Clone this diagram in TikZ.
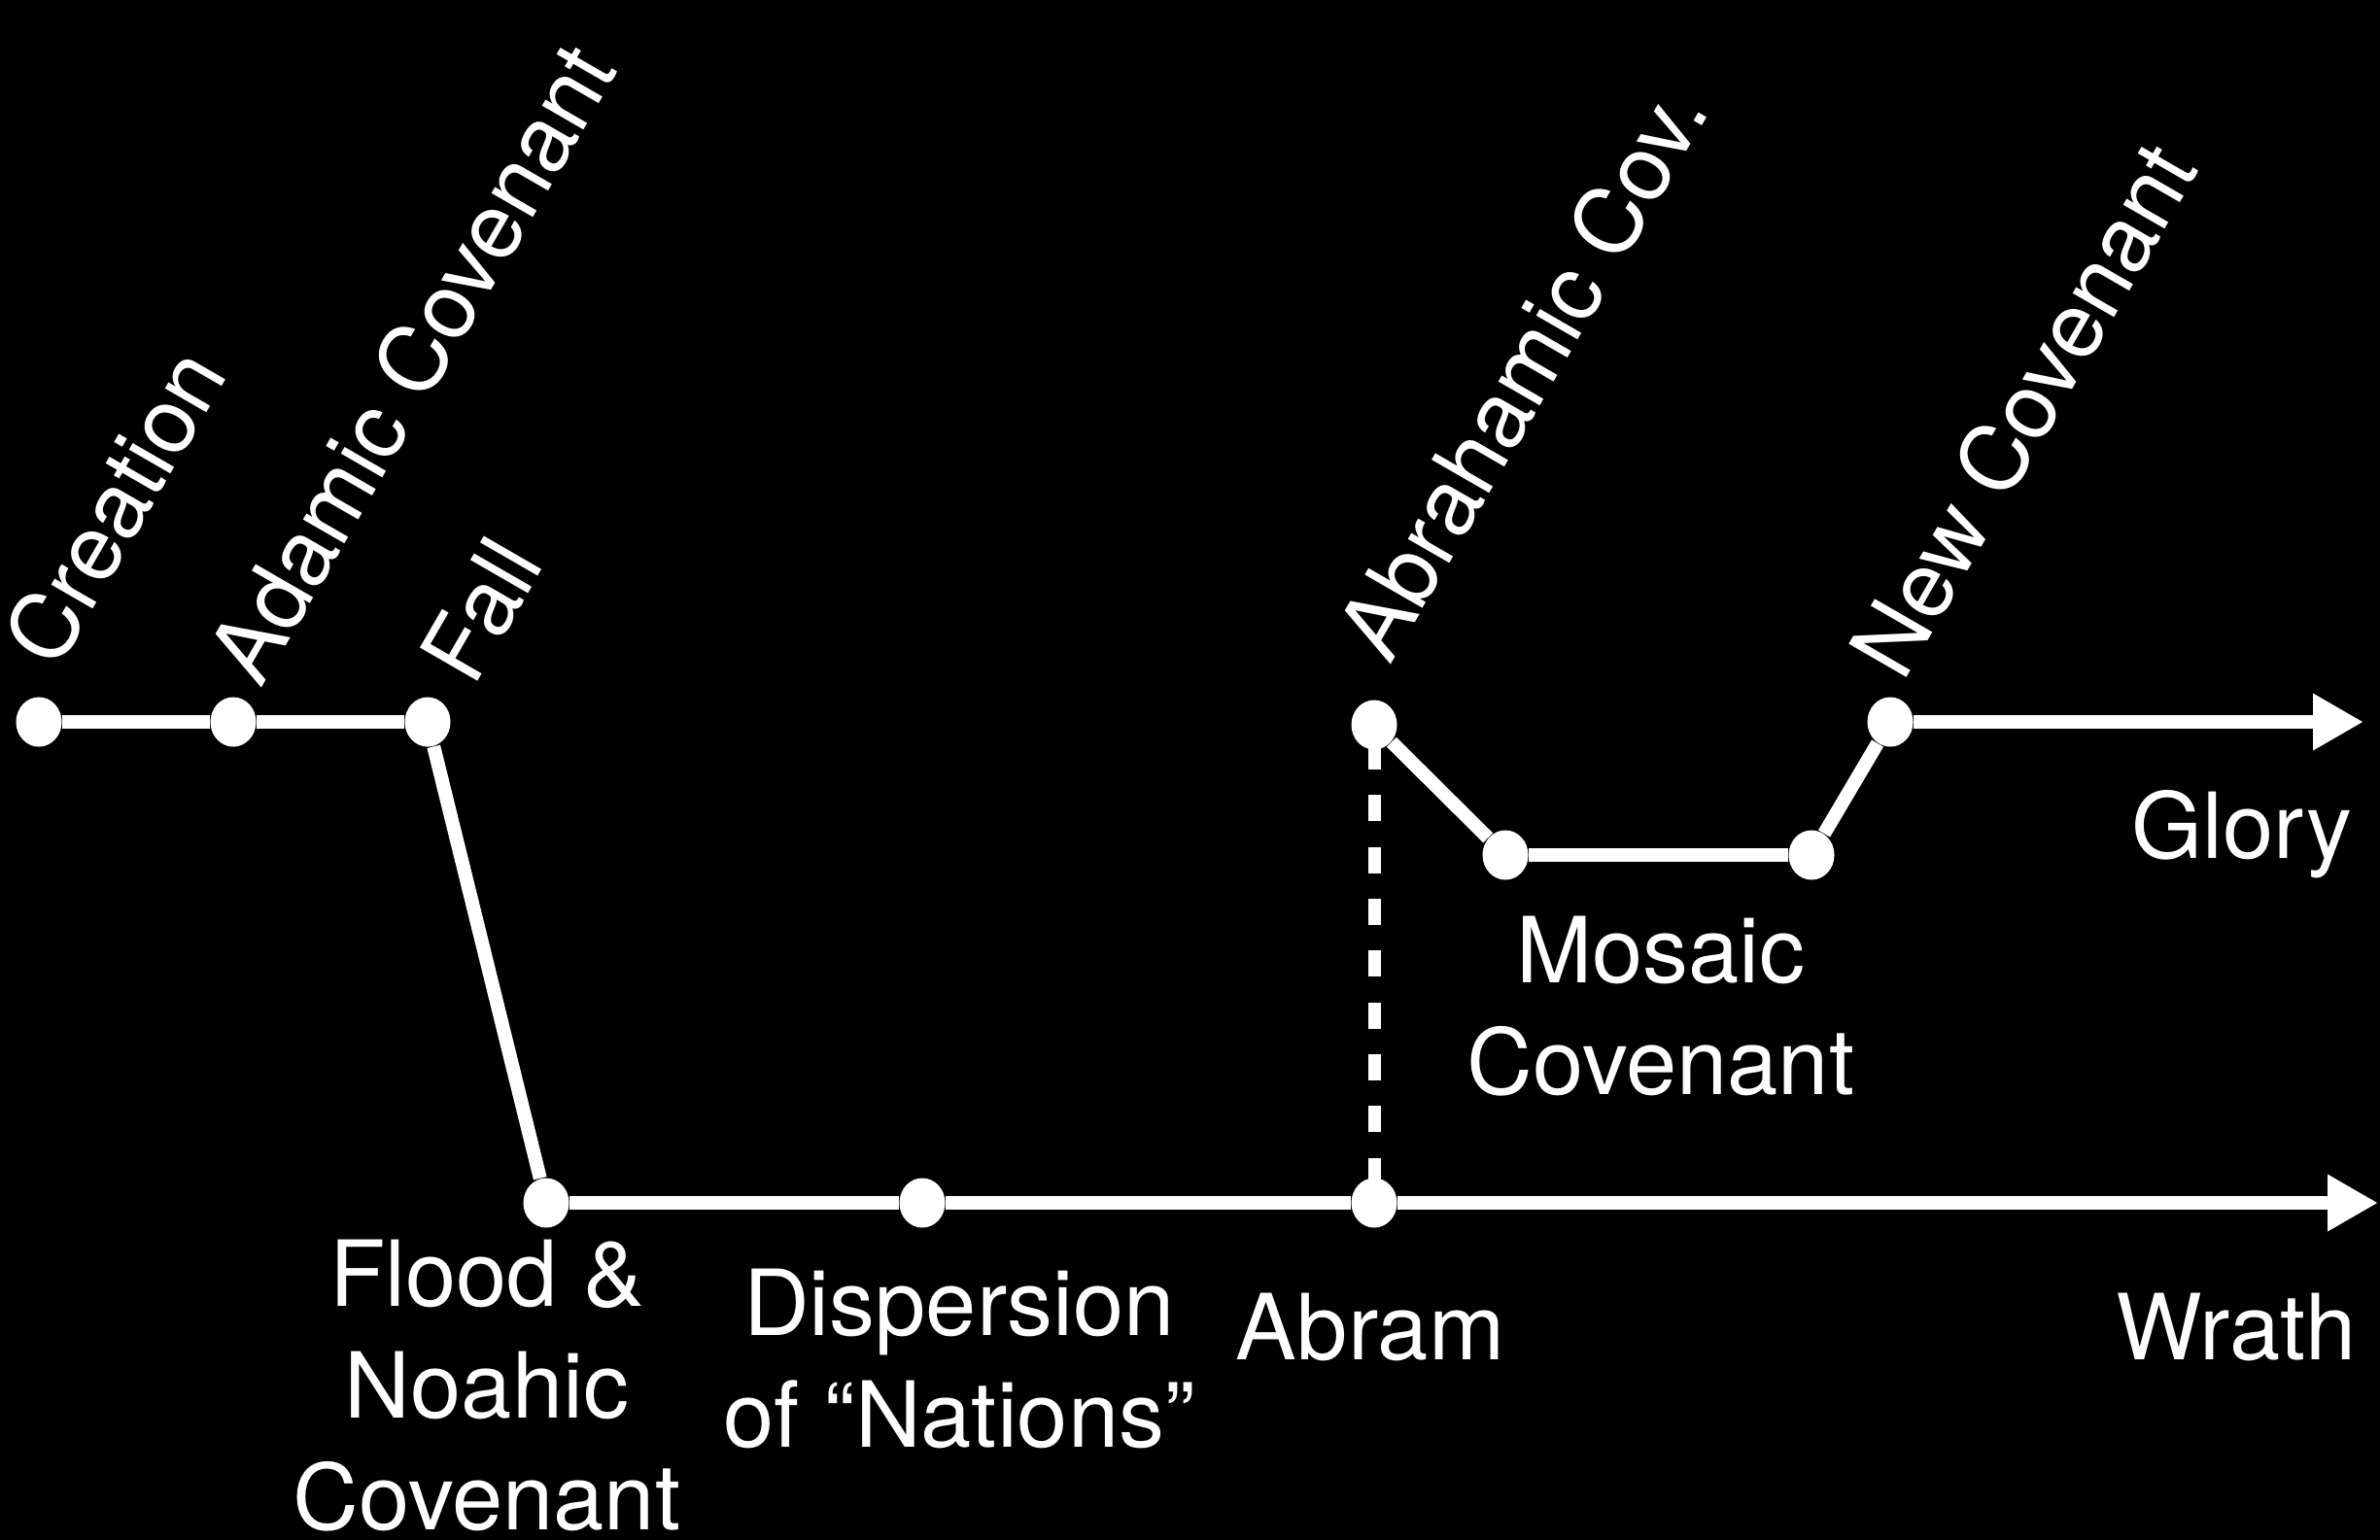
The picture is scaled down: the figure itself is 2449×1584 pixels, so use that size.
\documentclass[tikz,border=0pt]{standalone}
\usepackage{fontspec}
\setmainfont{TeX Gyre Heros}
\usetikzlibrary{arrows.meta,shapes.geometric}
\begin{document}
\begin{tikzpicture}[x=0.01cm,y=-0.01cm,
  dot/.style={ellipse,fill=white,draw=none,minimum width=0.47cm,minimum height=0.51cm,inner sep=0pt},
  conn/.style={draw=white,line width=0.14cm},
  dashconn/.style={draw=white,line width=0.13cm,dash pattern=on 0.27cm off 0.263cm,dash phase=0.343cm},
  arr/.style={conn,-{Triangle[length=0.52cm,width=0.55cm]}},
  lbl/.style={text=white,font=\fontsize{26.7}{32.7}\selectfont,inner sep=0pt},
  rlbl/.style={lbl,rotate=60,anchor=base west},
  hlbl/.style={lbl,align=center,anchor=base}]
\useasboundingbox (0,0) rectangle (2449,1584);
\fill[black] (-20,-20) rectangle (2469,1604);
% dots
\node[dot] (c)  at (40,743) {};
\node[dot] (a)  at (240,743) {};
\node[dot] (f)  at (440,743) {};
\node[dot] (fl) at (562,1238) {};
\node[dot] (d)  at (949,1238) {};
\node[dot] (ab) at (1414,1238) {};
\node[dot] (ac) at (1414,746) {};
\node[dot] (m1) at (1549,880) {};
\node[dot] (m2) at (1864,880) {};
\node[dot] (nc) at (1945,743) {};
\coordinate (gend) at (2432,743);
\coordinate (wend) at (2447,1238);
% connectors
\draw[conn] (c) -- (a);
\draw[conn] (a) -- (f);
\draw[conn] (f) -- (fl);
\draw[conn] (fl) -- (d);
\draw[conn] (d) -- (ab);
\draw[arr] (ab) -- (wend);
\draw[dashconn] (ac.center) -- (ab.center);
\draw[conn] (ac) -- (m1);
\draw[conn] (m1) -- (m2);
\draw[conn] (m2) -- (nc);
\draw[arr] (nc) -- (gend);
% rotated labels
\node[rlbl] (lc)  at (58,692) {Creation};
\node[rlbl] (la)  at (268,710) {Adamic Covenant};
\node[rlbl] (lf)  at (487,709) {Fall};
\node[rlbl] (lac) at (1430,686) {Abrahamic Cov.};
\node[rlbl] (lnc) at (1958,704) {New Covenant};
% horizontal labels (base = baseline of last line)
\node[lbl,anchor=base east] (lg) at (2421,883) {Glory};
\node[lbl,anchor=base east] (lw) at (2425,1399) {Wrath};
\node[hlbl] (lm)  at (1709,1126) {Mosaic\\Covenant};
\node[hlbl] (lab) at (1410,1399) {Abram};
\node[hlbl] (lfl) at (501,1574) {Flood \&\\Noahic\\Covenant};
\node[hlbl] (ld)  at (987,1489) {Dispersion\\of “Nations”};
\end{tikzpicture}
\end{document}
